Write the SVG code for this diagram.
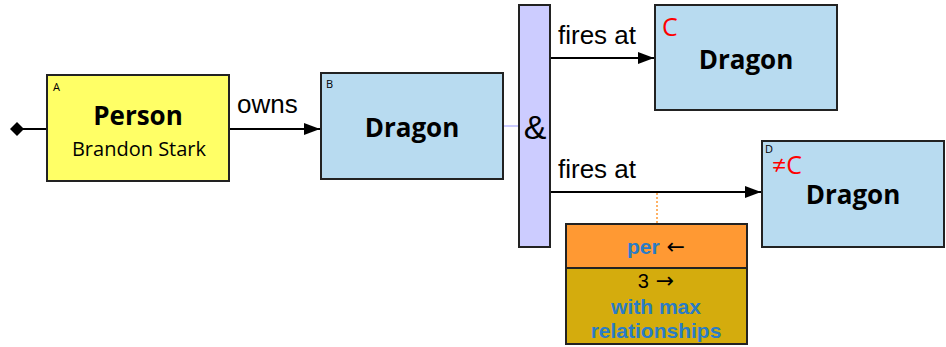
<svg xmlns="http://www.w3.org/2000/svg" width="946" height="347" viewBox="0 0 946 347">
<defs>
<marker id="arr" markerWidth="16" markerHeight="12" refX="16" refY="6" orient="auto" markerUnits="userSpaceOnUse"><path d="M0,0 L16,6 L0,12 z" fill="#000"/></marker>
<marker id="dia" markerWidth="14" markerHeight="14" refX="7" refY="7" orient="auto" markerUnits="userSpaceOnUse"><path d="M0,7 L7,0 L14,7 L7,14 z" fill="#000"/></marker>
<style>
.box{stroke:#222;stroke-width:2}
.blue{fill:#b8dbf0}
.t{font-family:"Open Sans","Noto Sans",sans-serif;fill:#000}
.b{font-weight:bold;font-size:26px}
.a{font-family:"Liberation Sans",Arial,sans-serif}
.lbl{font-size:26px}
.tag{font-size:11px}
.red{fill:#ff0000}
.bl{fill:#2a7cc6;font-weight:bold;font-size:21px}
.ar{font-family:"DejaVu Sans",sans-serif;font-size:22px;fill:#000}
.edge{stroke:#000;stroke-width:2;fill:none}
</style>
</defs>
<rect width="946" height="347" fill="#fff"/>
<g id="connectors">
<line class="edge" x1="17" y1="129" x2="47" y2="129" marker-start="url(#dia)"/>
<line class="edge" x1="229" y1="129" x2="320" y2="129" marker-end="url(#arr)"/>
<line x1="503" y1="126" x2="519" y2="126" stroke="#ccccff" stroke-width="2"/>
<line class="edge" x1="550" y1="58" x2="654" y2="58" marker-end="url(#arr)"/>
<line class="edge" x1="550" y1="192" x2="761" y2="192" marker-end="url(#arr)"/>
<line x1="657" y1="193" x2="657" y2="223" stroke="#ff9933" stroke-width="1.5" stroke-dasharray="2,2"/>
<text class="a lbl" x="237" y="113">owns</text>
<text class="a lbl" x="558" y="44">fires at</text>
<text class="a lbl" x="558" y="178">fires at</text>
</g>
<g id="nodeA">
<rect class="box" x="47" y="75" width="182" height="106" fill="#ffff66"/>
<text class="t tag" x="53" y="91">A</text>
<text class="t b" x="138" y="125" text-anchor="middle">Person</text>
<text class="t" x="139" y="156" font-size="20" text-anchor="middle">Brandon Stark</text>
</g>
<g id="nodeB">
<rect class="box blue" x="321" y="73" width="182" height="106"/>
<text class="t tag" x="326" y="88">B</text>
<text class="t b" x="412" y="137" text-anchor="middle">Dragon</text>
</g>
<g id="and">
<rect class="box" x="519" y="5" width="31" height="242" fill="#ccccff"/>
<text class="a" x="535" y="139" font-size="34" text-anchor="middle">&amp;</text>
</g>
<g id="nodeC">
<rect class="box blue" x="655" y="5" width="182" height="105"/>
<text class="t red" x="662" y="36" font-size="25">C</text>
<text class="t b" x="746" y="69" text-anchor="middle">Dragon</text>
</g>
<g id="nodeD">
<rect class="box blue" x="762" y="141" width="182" height="106"/>
<text class="t tag" x="765" y="153">D</text>
<text class="t red" x="772" y="174" font-size="25">≠C</text>
<text class="t b" x="853" y="204" text-anchor="middle">Dragon</text>
</g>
<g id="aggregate">
<rect class="box" x="566" y="224" width="181" height="44" fill="#ff9933"/>
<rect class="box" x="566" y="268" width="181" height="76" fill="#d4ac0d"/>
<text x="656" y="254" text-anchor="middle"><tspan class="a bl">per</tspan><tspan class="ar"> ←</tspan></text>
<text x="656" y="288" text-anchor="middle"><tspan class="a" font-size="20">3</tspan><tspan class="ar"> →</tspan></text>
<text class="a bl" x="656" y="314" text-anchor="middle">with max</text>
<text class="a bl" x="656" y="338" text-anchor="middle">relationships</text>
</g>
</svg>
